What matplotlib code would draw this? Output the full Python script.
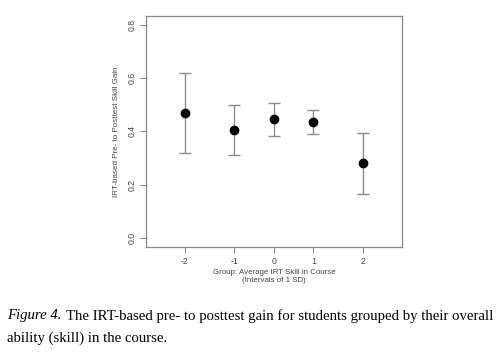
import numpy as np
import matplotlib.pyplot as plt

# groups (labels) and where each group mean sits on the skill axis
group_labels = ['-2', '-1', '0', '1', '2']
group_x = [-2.25, -1.0, 0.0, 1.0, 2.25]
gain = [0.467, 0.406, 0.444, 0.433, 0.281]
ci_low = [0.319, 0.312, 0.381, 0.388, 0.166]
ci_high = [0.617, 0.499, 0.506, 0.478, 0.394]

W, H = 497, 354
fig = plt.figure(figsize=(W / 100, H / 100), dpi=100)
# plot box in pixels: left 146, right 402, top 16, bottom 247
ax = fig.add_axes([146 / W, 1 - 247 / H, (402 - 146) / W, (247 - 16) / H])

g = np.array(gain)
yerr = [g - np.array(ci_low), np.array(ci_high) - g]
ax.errorbar(group_x, gain, yerr=yerr, fmt='none', ecolor='#8c8c8c',
            elinewidth=1.0, capsize=4.5, capthick=1.0)
ax.plot(group_x, gain, 'o', color='black', markersize=6)

ax.set_xlim(-3.23, 3.24)
ax.set_ylim(-0.034, 0.832)
ax.set_xticks(group_x)
ax.set_xticklabels(group_labels)
ax.set_yticks([0.0, 0.2, 0.4, 0.6, 0.8])
ax.set_yticklabels(['0.0', '0.2', '0.4', '0.6', '0.8'], rotation=90, va='center')

for s in ax.spines.values():
    s.set_color('#8a8a8a')
    s.set_linewidth(0.9)
ax.tick_params(direction='out', length=4, width=0.8, color='#8a8a8a',
               labelsize=6.3, labelcolor='#444444', pad=3)
for lab in ax.get_xticklabels() + ax.get_yticklabels():
    lab.set_family('Liberation Sans')

ax.set_xlabel('Group: Average IRT Skill in Course\n(Intervals of 1 SD)',
              fontsize=5.7, color='#444444', family='Liberation Sans',
              labelpad=2, linespacing=1.3)
ax.set_ylabel('IRT-based Pre- to Posttest Skill Gain', fontsize=5.8,
              color='#444444', family='Liberation Sans', labelpad=5)

# caption below the figure
cap_size = 10.65
t1 = fig.text(7 / W, 1 - 316 / H, 'Figure 4.', style='italic', fontsize=cap_size,
              family='Liberation Serif', va='center')
fig.canvas.draw()
bb = t1.get_window_extent()
fig.text((bb.x1 + 4) / W, 1 - 316 / H,
         'The IRT-based pre- to posttest gain for students grouped by their overall',
         fontsize=cap_size, family='Liberation Serif', va='center')
fig.text(7 / W, 1 - 338 / H, 'ability (skill) in the course.',
         fontsize=cap_size, family='Liberation Serif', va='center')

fig.savefig('out.png', dpi=100)
